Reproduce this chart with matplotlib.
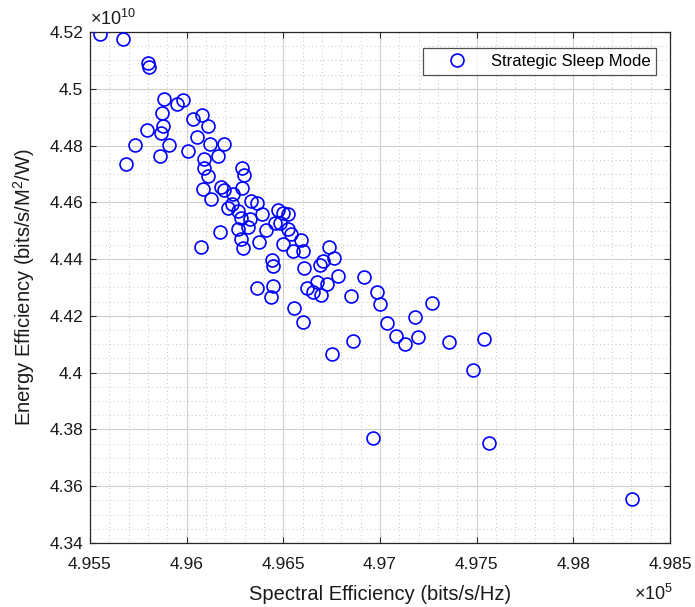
import numpy as np
import matplotlib
matplotlib.use("Agg")
import matplotlib.pyplot as plt
from matplotlib.ticker import FixedLocator, MultipleLocator, FuncFormatter, NullFormatter

plt.rcParams["font.family"] = ["Liberation Sans", "DejaVu Sans"]
plt.rcParams["mathtext.fontset"] = "custom"
plt.rcParams["mathtext.rm"] = "Liberation Sans"
plt.rcParams["mathtext.it"] = "Liberation Sans"

# Spectral efficiency, in units of 1e5 bits/s/Hz
spectral_eff_e5 = [
    4.95552, 4.95672, 4.95798, 4.95805, 4.95881, 4.95950, 4.95981, 4.95872, 4.96031, 4.96081,
    4.96110, 4.95879, 4.95795, 4.95869, 4.96052, 4.96121, 4.96192, 4.95734, 4.95910, 4.96005,
    4.95864, 4.96160, 4.96092, 4.95685, 4.96092, 4.96288, 4.96297, 4.96110, 4.96084, 4.96126,
    4.96178, 4.96193, 4.96242, 4.96286, 4.96335, 4.96362, 4.96388, 4.96214, 4.96234, 4.96265,
    4.96281, 4.96328, 4.96317, 4.96263, 4.96172, 4.96408, 4.96470, 4.96457, 4.96281, 4.96293,
    4.96373, 4.96074, 4.96441, 4.96448, 4.96362, 4.96448, 4.96436, 4.96500, 4.96526, 4.96483,
    4.96526, 4.96540, 4.96589, 4.96500, 4.96552, 4.96603, 4.96736, 4.96764, 4.96707, 4.96690,
    4.96608, 4.96784, 4.96916, 4.96621, 4.96676, 4.96725, 4.96655, 4.96696, 4.96849, 4.96983,
    4.96998, 4.97267, 4.96554, 4.96603, 4.97035, 4.97179, 4.97081, 4.97129, 4.97195, 4.97359,
    4.96862, 4.96753, 4.96965, 4.97536, 4.97483, 4.97565, 4.98305,
]

# Energy efficiency, in units of 1e10 bits/s/M^2/W
energy_eff_e10 = [
    4.51930, 4.51744, 4.50923, 4.50782, 4.49639, 4.49463, 4.49589, 4.49147, 4.48937, 4.49088,
    4.48702, 4.48702, 4.48551, 4.48446, 4.48291, 4.48070, 4.48060, 4.48025, 4.48010, 4.47800,
    4.47638, 4.47638, 4.47533, 4.47333, 4.47210, 4.47193, 4.46965, 4.46912, 4.46474, 4.46130,
    4.46544, 4.46432, 4.46298, 4.46491, 4.46053, 4.45965, 4.45579, 4.45789, 4.45930, 4.45695,
    4.45439, 4.45404, 4.45140, 4.45077, 4.44958, 4.45035, 4.45719, 4.45288, 4.44702, 4.44375,
    4.44586, 4.44421, 4.43982, 4.43754, 4.42982, 4.43053, 4.42656, 4.45639, 4.45597, 4.45274,
    4.45070, 4.44877, 4.44667, 4.44526, 4.44298, 4.44281, 4.44421, 4.44035, 4.43919, 4.43789,
    4.43684, 4.43404, 4.43386, 4.42965, 4.43193, 4.43123, 4.42832, 4.42747, 4.42684, 4.42832,
    4.42421, 4.42467, 4.42274, 4.41779, 4.41754, 4.41954, 4.41309, 4.40993, 4.41263, 4.41088,
    4.41098, 4.40656, 4.37709, 4.41193, 4.40081, 4.37533, 4.35560,
]

x_ticks_e5 = [4.955, 4.96, 4.965, 4.97, 4.975, 4.98, 4.985]
y_ticks_e10 = [4.34, 4.36, 4.38, 4.40, 4.42, 4.44, 4.46, 4.48, 4.50, 4.52]

series_label = "Strategic Sleep Mode"
x_label = "Spectral Efficiency (bits/s/Hz)"
y_label = "Energy Efficiency (bits/s/M$^2$/W)"

X_SCALE = 1e5
Y_SCALE = 1e10
spectral_eff = np.array(spectral_eff_e5) * X_SCALE
energy_eff = np.array(energy_eff_e10) * Y_SCALE
x_ticks = np.array(x_ticks_e5) * X_SCALE
y_ticks = np.array(y_ticks_e10) * Y_SCALE

W, H, DPI = 695, 607, 100
fig = plt.figure(figsize=(W / DPI, H / DPI), dpi=DPI, facecolor="white")
ax = fig.add_axes([90 / W, 1 - 543 / H, 580 / W, 511 / H])

ax.plot(spectral_eff, energy_eff, linestyle="none", marker="o",
        markersize=9.3, markerfacecolor="none", markeredgecolor="#0000ff",
        markeredgewidth=1.2, label=series_label, zorder=3)

ax.set_xlim(x_ticks[0], x_ticks[-1])
ax.set_ylim(y_ticks[0], y_ticks[-1])

ax.xaxis.set_major_locator(FixedLocator(x_ticks))
ax.yaxis.set_major_locator(FixedLocator(y_ticks))
ax.xaxis.set_minor_locator(MultipleLocator(0.001 * X_SCALE))
ax.yaxis.set_minor_locator(MultipleLocator(0.005 * Y_SCALE))
ax.xaxis.set_major_formatter(FuncFormatter(lambda v, p: "%g" % round(v / X_SCALE, 4)))
ax.yaxis.set_major_formatter(FuncFormatter(lambda v, p: "%g" % round(v / Y_SCALE, 4)))
ax.xaxis.set_minor_formatter(NullFormatter())
ax.yaxis.set_minor_formatter(NullFormatter())

ax.grid(which="major", color="#cfcfcf", linestyle="-", linewidth=0.8, zorder=0)
ax.grid(which="minor", color="#c2c2c2", linestyle=(0, (1, 3)), linewidth=0.7, zorder=0)
ax.set_axisbelow(True)

ax.tick_params(which="major", direction="in", length=4, width=0.8,
               top=True, right=True, labelsize=12.5, colors="#262626",
               labelcolor="#1a1a1a")
ax.tick_params(axis="x", which="major", pad=10)
ax.tick_params(axis="y", which="major", pad=5)
ax.tick_params(which="minor", length=0, top=True, right=True)
for s in ax.spines.values():
    s.set_color("#262626")
    s.set_linewidth(0.9)

ax.set_xlabel(x_label, fontsize=14.5, color="#1a1a1a")
ax.set_ylabel(y_label, fontsize=14.5, color="#1a1a1a")
ax.xaxis.set_label_coords(0.5, -0.082)
ax.yaxis.set_label_coords(-0.092, 0.5)

# exponent multipliers for the scaled tick labels
ax.text(0.0, 1.006, r"$\times10^{10}$", transform=ax.transAxes, ha="left",
        va="bottom", fontsize=13, color="#1a1a1a")
fig.text(673 / W, 1 - 604 / H, r"$\times10^{5}$", ha="right", va="bottom",
         fontsize=13, color="#1a1a1a")

leg = ax.legend(loc="upper right", bbox_to_anchor=(0.976, 0.969),
                borderaxespad=0, fontsize=12, frameon=True, fancybox=False,
                handlelength=3.4, handletextpad=0.3, borderpad=0.35,
                numpoints=1)
leg.get_frame().set_edgecolor("#262626")
leg.get_frame().set_linewidth(0.9)

fig.savefig("out.png", dpi=DPI, facecolor="white")
